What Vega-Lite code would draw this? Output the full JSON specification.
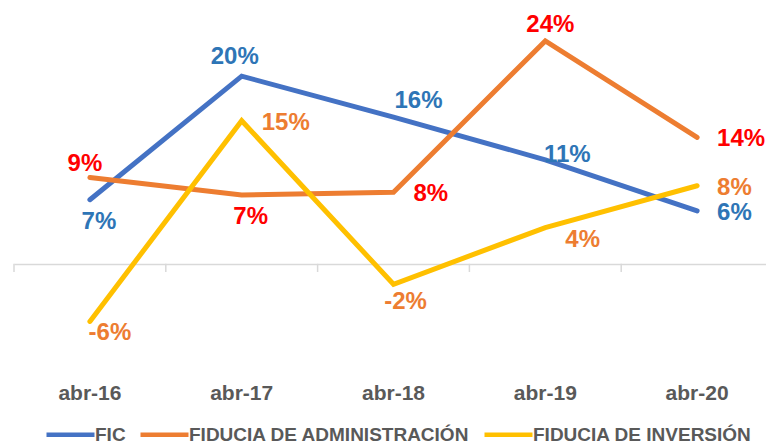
{
  "$schema": "https://vega.github.io/schema/vega-lite/v6.json",
  "width": 752,
  "height": 353,
  "autosize": {"type": "none"},
  "padding": {"left": 14, "top": 13, "right": 0, "bottom": 78},
  "background": "white",
  "config": {
    "view": {"stroke": null},
    "locale": {"number": {"decimal": ".", "thousands": ",", "grouping": [3], "currency": ["$", ""], "minus": "-"}},
    "text": {"font": "Liberation Sans", "fontWeight": "bold", "fontSize": 24}
  },
  "data": {
    "values": [
      {"mes": "abr-16", "serie": "FIC", "valor": 0.069},
      {"mes": "abr-17", "serie": "FIC", "valor": 0.202},
      {"mes": "abr-18", "serie": "FIC", "valor": 0.158},
      {"mes": "abr-19", "serie": "FIC", "valor": 0.112},
      {"mes": "abr-20", "serie": "FIC", "valor": 0.057},
      {"mes": "abr-16", "serie": "FIDUCIA DE ADMINISTRACIÓN", "valor": 0.093},
      {"mes": "abr-17", "serie": "FIDUCIA DE ADMINISTRACIÓN", "valor": 0.074},
      {"mes": "abr-18", "serie": "FIDUCIA DE ADMINISTRACIÓN", "valor": 0.077},
      {"mes": "abr-19", "serie": "FIDUCIA DE ADMINISTRACIÓN", "valor": 0.240},
      {"mes": "abr-20", "serie": "FIDUCIA DE ADMINISTRACIÓN", "valor": 0.136},
      {"mes": "abr-16", "serie": "FIDUCIA DE INVERSIÓN", "valor": -0.062},
      {"mes": "abr-17", "serie": "FIDUCIA DE INVERSIÓN", "valor": 0.154},
      {"mes": "abr-18", "serie": "FIDUCIA DE INVERSIÓN", "valor": -0.022},
      {"mes": "abr-19", "serie": "FIDUCIA DE INVERSIÓN", "valor": 0.039},
      {"mes": "abr-20", "serie": "FIDUCIA DE INVERSIÓN", "valor": 0.084}
    ]
  },
  "encoding": {
    "x": {
      "field": "mes", "type": "ordinal", "sort": null,
      "scale": {"type": "band", "paddingInner": 0, "paddingOuter": 0, "range": [0, 759]},
      "axis": {"title": null, "domain": false, "ticks": false, "tickSize": 0, "grid": false, "labelPadding": 16, "labelAngle": 0, "labelFont": "Liberation Sans", "labelFontWeight": "bold", "labelFontSize": 21, "labelColor": "#595959"}
    },
    "y": {
      "field": "valor", "type": "quantitative",
      "scale": {"domain": [-0.11, 0.27], "nice": false, "zero": false},
      "axis": {"title": null, "domain": false, "ticks": false, "labels": false, "grid": true, "values": [0], "gridColor": "#D9D9D9", "gridWidth": 1.5}
    }
  },
  "layer": [
    {
      "transform": [{"filter": "datum.serie === 'FIC'"}],
      "mark": {"type": "rule", "color": "#D9D9D9", "strokeWidth": 1.5},
      "encoding": {
        "x": {"field": "mes", "type": "ordinal", "sort": null, "bandPosition": 0},
        "y": {"datum": 0},
        "y2": {"datum": -0.0088}
      }
    },
    {
      "mark": {"type": "line", "strokeWidth": 5, "strokeCap": "round"},
      "encoding": {
        "color": {
          "field": "serie", "type": "nominal",
          "scale": {"domain": ["FIC", "FIDUCIA DE ADMINISTRACIÓN", "FIDUCIA DE INVERSIÓN"], "range": ["#4472C4", "#ED7D31", "#FFC000"]},
          "legend": {"orient": "none", "legendX": 30, "legendY": 395, "direction": "horizontal", "columns": 3, "title": null, "padding": 0, "symbolType": "stroke", "symbolSize": 2304, "symbolStrokeWidth": 4.5, "labelFont": "Liberation Sans", "labelFontWeight": "bold", "labelFontSize": 19, "labelColor": "#595959", "labelOffset": -2, "columnPadding": 5, "labelLimit": 400}
        }
      }
    },
    {
      "transform": [{"filter": "(datum.serie === 'FIDUCIA DE ADMINISTRACIÓN' && (datum.mes === 'abr-18' || datum.mes === 'abr-20')) || (datum.serie === 'FIC' && datum.mes === 'abr-20') || (datum.serie === 'FIDUCIA DE INVERSIÓN' && (datum.mes === 'abr-20' || datum.mes === 'abr-17'))"}],
      "mark": {"type": "text", "align": "left", "baseline": "middle", "dx": 20, "dy": 2},
      "encoding": {
        "text": {"field": "valor", "type": "quantitative", "format": ".0%"},
        "fill": {"field": "serie", "type": "nominal", "scale": {"domain": ["FIC", "FIDUCIA DE ADMINISTRACIÓN", "FIDUCIA DE INVERSIÓN"], "range": ["#2E75B6", "#FF0000", "#ED7D31"]}, "legend": null}
      }
    },
    {
      "transform": [{"filter": "datum.serie === 'FIDUCIA DE INVERSIÓN' && datum.mes === 'abr-19'"}],
      "mark": {"type": "text", "align": "left", "baseline": "middle", "dx": 20, "dy": 12},
      "encoding": {
        "text": {"field": "valor", "type": "quantitative", "format": ".0%"},
        "fill": {"field": "serie", "type": "nominal", "legend": null}
      }
    },
    {
      "transform": [{"filter": "datum.serie === 'FIC' && datum.mes === 'abr-17'"}],
      "mark": {"type": "text", "align": "center", "baseline": "middle", "dx": -7, "dy": -19},
      "encoding": {
        "text": {"field": "valor", "type": "quantitative", "format": ".0%"},
        "fill": {"field": "serie", "type": "nominal", "legend": null}
      }
    },
    {
      "transform": [{"filter": "datum.serie === 'FIDUCIA DE ADMINISTRACIÓN' && datum.mes === 'abr-19'"}],
      "mark": {"type": "text", "align": "center", "baseline": "middle", "dx": 5, "dy": -16},
      "encoding": {
        "text": {"field": "valor", "type": "quantitative", "format": ".0%"},
        "fill": {"field": "serie", "type": "nominal", "legend": null}
      }
    },
    {
      "transform": [{"filter": "datum.serie === 'FIDUCIA DE ADMINISTRACIÓN' && datum.mes === 'abr-16'"}],
      "mark": {"type": "text", "align": "center", "baseline": "middle", "dx": -5, "dy": -13},
      "encoding": {
        "text": {"field": "valor", "type": "quantitative", "format": ".0%"},
        "fill": {"field": "serie", "type": "nominal", "legend": null}
      }
    },
    {
      "transform": [{"filter": "(datum.serie === 'FIC' && datum.mes === 'abr-16') || (datum.serie === 'FIDUCIA DE ADMINISTRACIÓN' && datum.mes === 'abr-17')"}],
      "mark": {"type": "text", "align": "center", "baseline": "middle", "dx": 9, "dy": 22},
      "encoding": {
        "text": {"field": "valor", "type": "quantitative", "format": ".0%"},
        "fill": {"field": "serie", "type": "nominal", "legend": null}
      }
    },
    {
      "transform": [{"filter": "datum.serie === 'FIDUCIA DE INVERSIÓN' && datum.mes === 'abr-18'"}],
      "mark": {"type": "text", "align": "center", "baseline": "middle", "dx": 12, "dy": 18},
      "encoding": {
        "text": {"field": "valor", "type": "quantitative", "format": ".0%"},
        "fill": {"field": "serie", "type": "nominal", "legend": null}
      }
    },
    {
      "transform": [{"filter": "datum.serie === 'FIDUCIA DE INVERSIÓN' && datum.mes === 'abr-16'"}],
      "mark": {"type": "text", "align": "center", "baseline": "middle", "dx": 20, "dy": 12},
      "encoding": {
        "text": {"field": "valor", "type": "quantitative", "format": ".0%"},
        "fill": {"field": "serie", "type": "nominal", "legend": null}
      }
    },
    {
      "transform": [{"filter": "datum.serie === 'FIC' && datum.mes === 'abr-18'"}],
      "mark": {"type": "text", "align": "center", "baseline": "middle", "dx": 25, "dy": -16},
      "encoding": {
        "text": {"field": "valor", "type": "quantitative", "format": ".0%"},
        "fill": {"field": "serie", "type": "nominal", "legend": null}
      }
    },
    {
      "transform": [{"filter": "datum.serie === 'FIC' && datum.mes === 'abr-19'"}],
      "mark": {"type": "text", "align": "center", "baseline": "middle", "dx": 22, "dy": -5},
      "encoding": {
        "text": {"field": "valor", "type": "quantitative", "format": ".0%"},
        "fill": {"field": "serie", "type": "nominal", "legend": null}
      }
    }
  ]
}
